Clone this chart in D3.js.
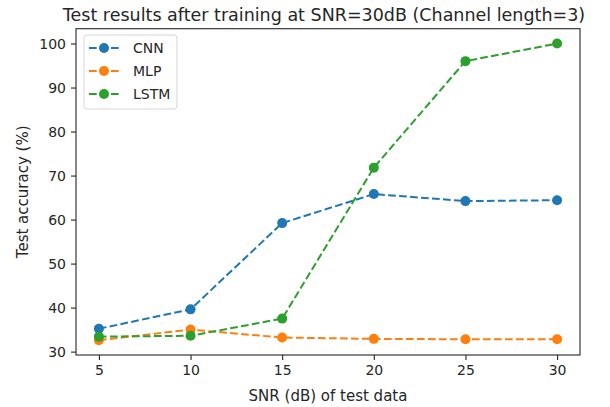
<!DOCTYPE html>
<html>
<head>
<meta charset="utf-8">
<script src="https://cdn.jsdelivr.net/npm/d3@7"></script>
<style>
  body { margin: 0; background: #fff; }
  text { font-family: "DejaVu Sans", sans-serif; fill: #262626; }
</style>
</head>
<body>
<svg id="chart" width="610" height="407"></svg>
<script>
// data
const snr = [5, 10, 15, 20, 25, 30];
const cnn = [35.2, 39.6, 59.2, 65.8, 64.2, 64.4];
const mlp = [32.6, 35.0, 33.2, 32.9, 32.8, 32.8];
const lstm = [33.4, 33.6, 37.5, 71.8, 96.0, 100.0];
const seriesNames = ['CNN', 'MLP', 'LSTM'];
const seriesColors = ['#1f77b4', '#ff7f0e', '#2ca02c'];
const xTicks = [5, 10, 15, 20, 25, 30];
const yTicks = [30, 40, 50, 60, 70, 80, 90, 100];

const svg = d3.select('#chart');
const pLeft = 76, pRight = 580, pTop = 28.7, pBottom = 355;

const x = d3.scaleLinear().domain([3.75, 31.25]).range([pLeft, pRight]);
const y = d3.scaleLinear().domain([29.23, 103.37]).range([pBottom, pTop]);

// axes
const xAxis = svg.append('g')
  .attr('transform', `translate(0,${pBottom})`)
  .call(d3.axisBottom(x).tickValues(xTicks).tickSize(5).tickPadding(5));
const yAxis = svg.append('g')
  .attr('transform', `translate(${pLeft},0)`)
  .call(d3.axisLeft(y).tickValues(yTicks).tickSize(5).tickPadding(5));
[xAxis, yAxis].forEach(a => {
  a.select('.domain').remove();
  a.selectAll('line').attr('stroke', '#262626').attr('stroke-width', 1.1);
  a.selectAll('text').style('font-size', '14px').attr('fill', '#262626');
});

// frame
svg.append('rect')
  .attr('x', pLeft).attr('y', pTop)
  .attr('width', pRight - pLeft).attr('height', pBottom - pTop)
  .attr('fill', 'none').attr('stroke', '#262626').attr('stroke-width', 1.1);

// lines
const allSeries = [cnn, mlp, lstm];
const line = d3.line().x((d, i) => x(snr[i])).y(d => y(d));

allSeries.forEach((vals, k) => {
  const g = svg.append('g');
  g.append('path')
    .datum(vals)
    .attr('d', line)
    .attr('fill', 'none')
    .attr('stroke', seriesColors[k])
    .attr('stroke-width', 2)
    .attr('stroke-dasharray', '7.7,3.3');
  g.selectAll('circle')
    .data(vals)
    .enter().append('circle')
    .attr('cx', (d, i) => x(snr[i]))
    .attr('cy', d => y(d))
    .attr('r', 5)
    .attr('fill', seriesColors[k]);
});

// legend
const leg = svg.append('g');
leg.append('rect')
  .attr('x', 84).attr('y', 35).attr('width', 93).attr('height', 74)
  .attr('rx', 3).attr('fill', '#fff').attr('fill-opacity', 0.8)
  .attr('stroke', '#d6d6d6').attr('stroke-width', 1);
seriesNames.forEach((name, k) => {
  const ly = 48 + k * 23;
  leg.append('line')
    .attr('x1', 89).attr('x2', 119).attr('y1', ly).attr('y2', ly)
    .attr('stroke', seriesColors[k]).attr('stroke-width', 2)
    .attr('stroke-dasharray', '7.7,3.3');
  leg.append('circle').attr('cx', 104).attr('cy', ly).attr('r', 5).attr('fill', seriesColors[k]);
  leg.append('text').attr('x', 133).attr('y', ly + 5).style('font-size', '14px').text(name);
});

// titles
svg.append('text')
  .attr('x', (pLeft + pRight) / 2 - 4).attr('y', 21)
  .attr('text-anchor', 'middle').style('font-size', '17.5px')
  .text('Test results after training at SNR=30dB (Channel length=3)');
svg.append('text')
  .attr('x', (pLeft + pRight) / 2).attr('y', 401)
  .attr('text-anchor', 'middle').style('font-size', '15px')
  .text('SNR (dB) of test data');
svg.append('text')
  .attr('transform', `translate(28,${(pTop + pBottom) / 2}) rotate(-90)`)
  .attr('text-anchor', 'middle').style('font-size', '15px')
  .text('Test accuracy (%)');
</script>
</body>
</html>
